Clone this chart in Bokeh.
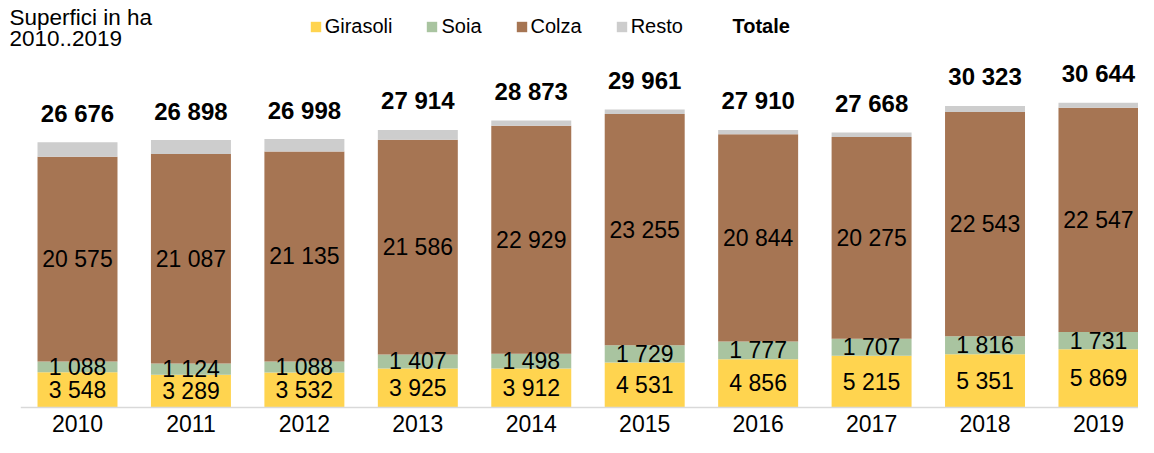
from bokeh.plotting import figure
from bokeh.models import ColumnDataSource, Range1d, Legend, LegendItem, Label
from bokeh.core.properties import value
from bokeh.embed import file_html
from bokeh.resources import INLINE

years = [2010, 2011, 2012, 2013, 2014, 2015, 2016, 2017, 2018, 2019]
girasoli = [3548, 3289, 3532, 3925, 3912, 4531, 4856, 5215, 5351, 5869]
soia = [1088, 1124, 1088, 1407, 1498, 1729, 1777, 1707, 1816, 1731]
colza = [20575, 21087, 21135, 21586, 22929, 23255, 20844, 20275, 22543, 22547]
resto = [1465, 1398, 1243, 996, 534, 446, 433, 471, 613, 497]
totale = [26676, 26898, 26998, 27914, 28873, 29961, 27910, 27668, 30323, 30644]
series_names = ["Girasoli", "Soia", "Colza", "Resto"]
colors = ["#FFD44F", "#A9C4A0", "#A67553", "#CDCDCD"]
title_lines = ["Superfici in ha", "2010..2019"]

FONT = "Liberation Sans"


def fmt(v):
    return f"{v:,}".replace(",", " ")


src = ColumnDataSource(dict(year=years, girasoli=girasoli, soia=soia, colza=colza, resto=resto))

p = figure(width=1138, height=437, output_backend="svg", toolbar_location=None,
           x_range=Range1d(2009.3212, 2019.3529), y_range=Range1d(-3017, 40933),
           x_axis_location=None, y_axis_location=None, min_border=0,
           outline_line_color=None, background_fill_color="white")
p.grid.visible = False

renderers = p.vbar_stack(["girasoli", "soia", "colza", "resto"], x="year", width=0.705,
                         color=colors, line_color=None, source=src)

# baseline
p.segment(x0=[years[0] - 0.5], x1=[years[-1] + 0.5], y0=[0], y1=[0],
          line_color="#D9D9D9", line_width=1.5)

# inner labels
lx, ly, lt = [], [], []
for i, y in enumerate(years):
    base = 0
    for vals in (girasoli, soia, colza):
        v = vals[i]
        lx.append(y)
        ly.append(base + v / 2)
        lt.append(fmt(v))
        base += v
p.text(x=lx, y=ly, text=lt, text_align="center", text_baseline="middle",
       text_font=value(FONT), text_font_size="23px", text_color="black")

# totals
p.text(x=years, y=totale, text=[fmt(t) for t in totale], y_offset=-29,
       text_align="center", text_baseline="middle", text_font=value(FONT),
       text_font_size="24px", text_font_style="bold", text_color="black")

# year labels
p.text(x=years, y=[0] * len(years), text=[str(y) for y in years], y_offset=16,
       text_align="center", text_baseline="middle", text_font=value(FONT),
       text_font_size="23px", text_color="black")

legend = Legend(items=[LegendItem(label=n, renderers=[r]) for n, r in zip(series_names, renderers)],
                orientation="horizontal", location=(308.7, 399.5),
                glyph_width=13, glyph_height=13, label_standoff=3, spacing=33,
                padding=0, margin=0, border_line_alpha=0, background_fill_alpha=0,
                label_text_font=FONT, label_text_font_size="20px", label_text_color="black")
p.add_layout(legend)

p.add_layout(Label(x=732, y=411.5, x_units="screen", y_units="screen", text="Totale",
                   text_font=FONT, text_font_size="20px", text_font_style="bold",
                   text_baseline="middle", text_color="black"))

p.add_layout(Label(x=9, y=420.5, x_units="screen", y_units="screen", text=title_lines[0],
                   text_font=FONT, text_font_size="22.5px", text_baseline="alphabetic",
                   text_color="black"))
p.add_layout(Label(x=9, y=399.5, x_units="screen", y_units="screen", text=title_lines[1],
                   text_font=FONT, text_font_size="22.5px", text_baseline="alphabetic",
                   text_color="black"))

open("out.html", "w").write(file_html(p, INLINE))
